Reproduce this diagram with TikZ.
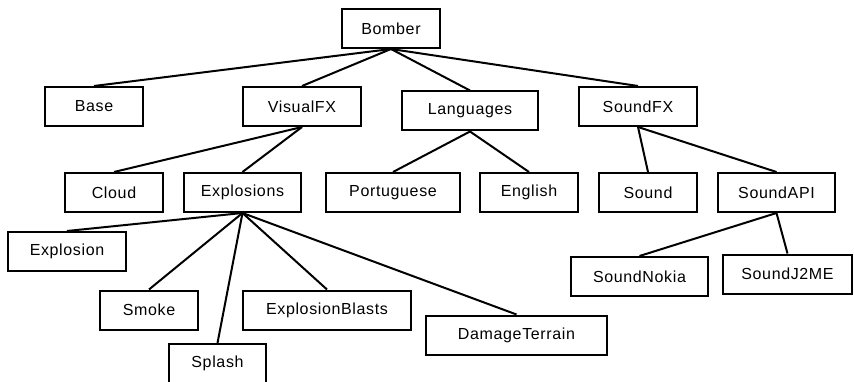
\documentclass[tikz,border=0pt]{standalone}
\usepackage{fontspec}
\setmainfont{Liberation Sans}[LetterSpace=4]
\usepackage{tikz}
\usetikzlibrary{positioning}

\begin{document}
\begin{tikzpicture}[x=1pt,y=-1pt,line width=2pt,
    box/.style={draw,rectangle,inner sep=0pt,minimum height=39pt,
        font=\fontsize{16}{19}\selectfont}]
    \useasboundingbox (0,0) rectangle (854,382);
    % top
    \node[box,minimum width=98pt] (bomber) at (391,28.5) {Bomber};
    % second row
    \node[box,minimum width=98pt] (base) at (94,106.5) {Base};
    \node[box,minimum width=118pt] (visualfx) at (302,106.5) {VisualFX};
    \node[box,minimum width=136pt] (languages) at (470,111) {Languages};
    \node[box,minimum width=118pt] (soundfx) at (638,106.5) {SoundFX};
    % third row
    \node[box,minimum width=98pt] (cloud) at (114,192.5) {Cloud};
    \node[box,minimum width=117pt] (explosions) at (242.5,192.5) {Explosions};
    \node[box,minimum width=134pt] (portuguese) at (393,192.5) {Portuguese};
    \node[box,minimum width=98pt] (english) at (529,192.5) {English};
    \node[box,minimum width=98pt] (sound) at (648,192.5) {Sound};
    \node[box,minimum width=117pt] (soundapi) at (776.5,192.5) {SoundAPI};
    % below
    \node[box,minimum width=118pt] (explosion) at (67,251.5) {Explosion};
    \node[box,minimum width=98pt] (smoke) at (149,310) {Smoke};
    \node[box,minimum width=168pt] (blasts) at (327,310) {ExplosionBlasts};
    \node[box,minimum width=181pt] (damage) at (516.5,335) {DamageTerrain};
    \node[box,minimum width=97pt] (splash) at (217.5,363.5) {Splash};
    \node[box,minimum width=137pt] (nokia) at (639.5,276.5) {SoundNokia};
    \node[box,minimum width=129pt] (j2me) at (787.5,274) {SoundJ2ME};

    \path
    (bomber.south) edge (base.north)
        edge (visualfx.north)
        edge (languages.north)
        edge (soundfx.north)
    (visualfx.south) edge (cloud.north)
        edge (explosions.north)
    (languages.south) edge (portuguese.north)
        edge (english.north)
    (soundfx.south) edge (sound.north)
        edge (soundapi.north)
    (explosions.south) edge (explosion.north)
        edge (smoke.north)
        edge (splash.north)
        edge (blasts.north)
        edge (damage.north)
    (soundapi.south) edge (nokia.north)
        edge (j2me.north);

\end{tikzpicture}
\end{document}
